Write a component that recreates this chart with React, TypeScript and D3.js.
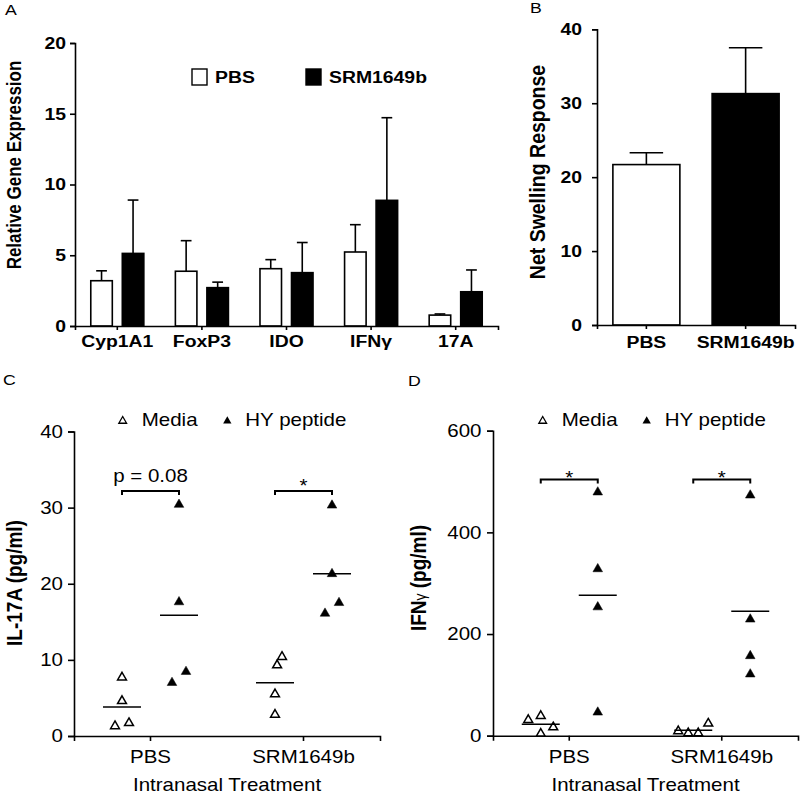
import { useEffect, useRef } from 'react';
import * as d3 from 'd3';

// A: relative gene expression (mean, upper SEM)
const genes = ['Cyp1A1', 'FoxP3', 'IDO', 'IFNγ', '17A'];
const pbsExpr = [3.2, 3.87, 4.05, 5.23, 0.77];
const pbsExprErr = [0.7, 2.16, 0.64, 1.93, 0.08];
const srmExpr = [5.13, 2.71, 3.77, 8.88, 2.42];
const srmExprErr = [3.77, 0.39, 2.13, 5.84, 1.54];
const exprTicks = [0, 5, 10, 15, 20];

// B: net swelling response
const treatments = ['PBS', 'SRM1649b'];
const swelling = [21.7, 31.3];
const swellingErr = [1.6, 6.2];
const swellingTicks = [0, 10, 20, 30, 40];

// C: IL-17A (pg/ml)
const il17PbsMedia = [7.7, 4.6, 1.3, 1.7];
const il17PbsHY = [30.4, 17.6, 7.0, 8.45];
const il17SrmMedia = [9.3, 10.4, 5.5, 2.8];
const il17SrmHY = [30.3, 21.3, 16.1, 17.5];
const il17Ticks = [0, 10, 20, 30, 40];
const il17Signif = ['p = 0.08', '*'];

// D: IFNγ (pg/ml)
const ifnPbsMedia = [31, 39, 4, 16.5];
const ifnPbsHY = [479, 328, 253, 46];
const ifnSrmMedia = [9, 5, 5, 24];
const ifnSrmHY = [473, 229, 157, 121];
const ifnTicks = [0, 200, 400, 600];
const ifnSignif = ['*', '*'];

// jitter slot of each dot inside its group
const il17PbsMediaSlot = [0, 0, -1, 1];
const il17PbsHYSlot = [0, 0, -1, 1];
const il17SrmMediaSlot = [0.3, 1, 0, 0];
const il17SrmHYSlot = [0, 0, -1, 1];
const ifnPbsMediaSlot = [-1.25, 0, 0, 1.25];
const ifnPbsHYSlot = [0, 0, 0, 0];
const ifnSrmMediaSlot = [-1.5, -0.5, 0.5, 1.5];
const ifnSrmHYSlot = [0, 0, 0, 0];

const groups = ['Media', 'HY peptide'];

const SX = 1.14; // the figure is stretched horizontally
const FONT = '"Liberation Sans", Arial, Helvetica, sans-serif';

type G = d3.Selection<SVGGElement, unknown, null, undefined>;

function label(g: G, x: number, y: number, str: string, size: number, weight = 'normal', anchor = 'start') {
  return g.append('text')
    .attr('transform', `translate(${x},${y}) scale(${SX},1)`)
    .attr('font-size', size).attr('font-weight', weight)
    .attr('text-anchor', anchor).attr('fill', '#000')
    .text(str);
}

function yTitle(g: G, x: number, y: number, str: string, size: number) {
  return g.append('text')
    .attr('transform', `translate(${x},${y}) scale(${SX},1) rotate(-90)`)
    .attr('dy', '0.36em').attr('font-size', size).attr('font-weight', 'bold')
    .attr('text-anchor', 'middle').attr('fill', '#000')
    .text(str);
}

function styleAxis(ax: G, size: number, weight: string, left: boolean) {
  ax.attr('font-family', FONT).attr('font-size', null);
  ax.select('.domain').attr('stroke', '#000').attr('stroke-width', 1.6);
  ax.selectAll('.tick line').attr('stroke', '#000').attr('stroke-width', 1.6);
  ax.selectAll<SVGTextElement, unknown>('.tick text').each(function () {
    const t = d3.select(this);
    t.attr('font-size', size).attr('font-weight', weight).attr('fill', '#000')
      .attr('transform', `scale(${SX},1)`);
    if (left) t.attr('x', +t.attr('x') / SX);
  });
}

export default function App() {
  const svgRef = useRef<SVGSVGElement>(null);

  useEffect(() => {
    if (!svgRef.current) return;
    const svg = d3.select(svgRef.current);
    svg.selectAll('*').remove();
    const root = svg.append('g').attr('font-family', FONT) as G;

    // ---------- panel A ----------
    const gA = root.append('g') as G;
    const yA = d3.scaleLinear().domain([0, 20]).range([326, 43]);
    const xA = d3.scaleBand().domain(genes).range([75, 498]).paddingInner(0.373).paddingOuter(0.1865);
    const subA = d3.scaleBand().domain(['PBS', 'SRM']).range([0, xA.bandwidth()]).paddingInner(0.317);
    const bw = subA.bandwidth();

    const seriesA = [
      { key: 'PBS', vals: pbsExpr, errs: pbsExprErr, fill: '#fff' },
      { key: 'SRM', vals: srmExpr, errs: srmExprErr, fill: '#000' },
    ];
    seriesA.forEach((s) => {
      genes.forEach((gene, i) => {
        const x0 = xA(gene)! + subA(s.key)!;
        const cx = x0 + bw / 2;
        gA.append('line').attr('x1', cx).attr('x2', cx)
          .attr('y1', yA(s.vals[i])).attr('y2', yA(s.vals[i] + s.errs[i]))
          .attr('stroke', '#000').attr('stroke-width', 1.6);
        gA.append('line').attr('x1', cx - bw / 4).attr('x2', cx + bw / 4)
          .attr('y1', yA(s.vals[i] + s.errs[i])).attr('y2', yA(s.vals[i] + s.errs[i]))
          .attr('stroke', '#000').attr('stroke-width', 1.6);
        gA.append('rect').attr('x', x0).attr('width', bw)
          .attr('y', yA(s.vals[i])).attr('height', yA(0) - yA(s.vals[i]))
          .attr('fill', s.fill).attr('stroke', '#000').attr('stroke-width', 1.6);
      });
    });

    const axAy = gA.append('g').attr('transform', 'translate(75,0)')
      .call(d3.axisLeft(yA).tickValues(exprTicks).tickSizeOuter(0).tickSize(5).tickPadding(4)) as G;
    styleAxis(axAy, 17, 'bold', true);
    const axAx = gA.append('g').attr('transform', `translate(0,${yA(0)})`)
      .call(d3.axisBottom(xA).tickSizeOuter(0).tickSize(4).tickPadding(5)) as G;
    styleAxis(axAx, 17, 'bold', false);

    gA.append('rect').attr('x', 192).attr('y', 69).attr('width', 15).attr('height', 16)
      .attr('fill', '#fff').attr('stroke', '#000').attr('stroke-width', 1.4);
    label(gA, 215, 83, 'PBS', 17, 'bold');
    gA.append('rect').attr('x', 306).attr('y', 69).attr('width', 15).attr('height', 16)
      .attr('fill', '#000').attr('stroke', '#000').attr('stroke-width', 1.4);
    label(gA, 329, 83, 'SRM1649b', 17, 'bold');

    yTitle(gA, 14, 165, 'Relative Gene Expression', 17);
    label(gA, 5, 15, 'A', 15.5);

    // ---------- panel B ----------
    const gB = root.append('g') as G;
    const yB = d3.scaleLinear().domain([0, 40]).range([325, 29.3]);
    const xB = d3.scaleBand().domain(treatments).range([597, 795]).paddingInner(0.325).paddingOuter(0.16);
    const bwB = xB.bandwidth();
    treatments.forEach((t, i) => {
      const x0 = xB(t)!;
      const cx = x0 + bwB / 2;
      const top = yB(swelling[i] + swellingErr[i]);
      gB.append('line').attr('x1', cx).attr('x2', cx).attr('y1', yB(swelling[i])).attr('y2', top)
        .attr('stroke', '#000').attr('stroke-width', 1.6);
      gB.append('line').attr('x1', cx - bwB / 4).attr('x2', cx + bwB / 4).attr('y1', top).attr('y2', top)
        .attr('stroke', '#000').attr('stroke-width', 1.6);
      gB.append('rect').attr('x', x0).attr('width', bwB)
        .attr('y', yB(swelling[i])).attr('height', yB(0) - yB(swelling[i]))
        .attr('fill', i === 0 ? '#fff' : '#000').attr('stroke', '#000').attr('stroke-width', 1.6);
    });
    const axBy = gB.append('g').attr('transform', 'translate(597,0)')
      .call(d3.axisLeft(yB).tickValues(swellingTicks).tickSizeOuter(0).tickSize(5).tickPadding(10)) as G;
    styleAxis(axBy, 17, 'bold', true);
    const axBx = gB.append('g').attr('transform', `translate(0,${yB(0)})`)
      .call(d3.axisBottom(xB).tickSizeOuter(0).tickSize(4).tickPadding(7)) as G;
    styleAxis(axBx, 17, 'bold', false);
    yTitle(gB, 536.5, 172, 'Net Swelling Response', 19.5);
    label(gB, 530, 13, 'B', 15.5);

    // ---------- dot plots C & D ----------
    const tri = d3.symbol(d3.symbolTriangle);
    const offset = d3.scalePoint().domain(groups).range([-28.5, 28.5]);

    function dotPanel(
      g: G, y: d3.ScaleLinear<number, number>, x: d3.ScaleBand<string>, ticks: number[],
      data: { t: string; grp: string; vals: number[]; slots: number[] }[],
      slotW: number, signif: string[], bracketV: number, starDy: number, yTickPad: number,
    ) {
      const x0 = x.range()[0];
      data.forEach((d) => {
        const cx = x(d.t)! + x.bandwidth() / 2 + offset(d.grp)!;
        const open = d.grp === 'Media';
        d.vals.forEach((v, i) => {
          g.append('path').attr('d', tri.size(open ? 34 : 40)())
            .attr('transform', `translate(${cx + d.slots[i] * slotW},${y(v)})`)
            .attr('fill', open ? '#fff' : '#000').attr('stroke', '#000')
            .attr('stroke-width', open ? 1.5 : 0.5);
        });
        const m = d3.mean(d.vals)!;
        g.append('line').attr('x1', cx - 19).attr('x2', cx + 19).attr('y1', y(m)).attr('y2', y(m))
          .attr('stroke', '#000').attr('stroke-width', 1.5);
      });
      // significance brackets
      x.domain().forEach((t, i) => {
        const c = x(t)! + x.bandwidth() / 2;
        const xa = c + offset('Media')!;
        const xb = c + offset('HY peptide')!;
        const yb = y(bracketV);
        g.append('path').attr('d', `M${xa},${yb + 4}V${yb}H${xb}V${yb + 4}`)
          .attr('fill', 'none').attr('stroke', '#000').attr('stroke-width', 2);
        label(g, (xa + xb) / 2, signif[i] === '*' ? yb + starDy : yb - 9, signif[i], 18, 'normal', 'middle');
      });
      const axY = g.append('g').attr('transform', `translate(${x0},0)`)
        .call(d3.axisLeft(y).tickValues(ticks).tickSizeOuter(0).tickSize(6).tickPadding(yTickPad)) as G;
      styleAxis(axY, 18, 'normal', true);
      const axX = g.append('g').attr('transform', `translate(0,${y(0)})`)
        .call(d3.axisBottom(x).tickSizeOuter(0).tickSize(5).tickPadding(9.5)) as G;
      styleAxis(axX, 18, 'normal', false);
      const [r0, r1] = x.range();
      label(g, (r0 + r1) / 2, 791, 'Intranasal Treatment', 18, 'normal', 'middle');
    }

    function dotLegend(g: G, xOpen: number, xFill: number) {
      g.append('path').attr('d', tri.size(26)()).attr('transform', `translate(${xOpen},${421})`)
        .attr('fill', '#fff').attr('stroke', '#000').attr('stroke-width', 1.3);
      label(g, xOpen + 19, 426, groups[0], 18);
      g.append('path').attr('d', tri.size(30)()).attr('transform', `translate(${xFill},${421})`)
        .attr('fill', '#000');
      label(g, xFill + 18, 426, groups[1], 18);
    }

    // panel C
    const gC = root.append('g') as G;
    const yC = d3.scaleLinear().domain([0, 40]).range([736, 431.5]);
    const xC = d3.scaleBand().domain(treatments).range([74, 380]);
    dotPanel(gC, yC, xC, il17Ticks, [
      { t: 'PBS', grp: 'Media', vals: il17PbsMedia, slots: il17PbsMediaSlot },
      { t: 'PBS', grp: 'HY peptide', vals: il17PbsHY, slots: il17PbsHYSlot },
      { t: 'SRM1649b', grp: 'Media', vals: il17SrmMedia, slots: il17SrmMediaSlot },
      { t: 'SRM1649b', grp: 'HY peptide', vals: il17SrmHY, slots: il17SrmHYSlot },
    ], 7, il17Signif, 32.2, 1.5, 5);
    dotLegend(gC, 122.7, 227.3);
    yTitle(gC, 14, 583, 'IL-17A (pg/ml)', 19);
    label(gC, 3, 385, 'C', 15.5);

    // panel D
    const gD = root.append('g') as G;
    const yD = d3.scaleLinear().domain([0, 600]).range([735.7, 430.7]);
    const xD = d3.scaleBand().domain(treatments).range([493, 798]);
    dotPanel(gD, yD, xD, ifnTicks, [
      { t: 'PBS', grp: 'Media', vals: ifnPbsMedia, slots: ifnPbsMediaSlot },
      { t: 'PBS', grp: 'HY peptide', vals: ifnPbsHY, slots: ifnPbsHYSlot },
      { t: 'SRM1649b', grp: 'Media', vals: ifnSrmMedia, slots: ifnSrmMediaSlot },
      { t: 'SRM1649b', grp: 'HY peptide', vals: ifnSrmHY, slots: ifnSrmHYSlot },
    ], 10, ifnSignif, 504, 4.5, 5.5);
    dotLegend(gD, 542.7, 646.7);
    const tD = yTitle(gD, 418, 578, '', 19);
    tD.append('tspan').text('IFN');
    tD.append('tspan').attr('font-size', 14).attr('font-weight', 'normal').text('γ');
    tD.append('tspan').text(' (pg/ml)');
    label(gD, 408, 386, 'D', 15.5);
  }, []);

  return (
    <svg
      ref={svgRef}
      width={800}
      height={795}
      style={{ position: 'absolute', left: 0, top: 0, background: '#fff' }}
    />
  );
}
